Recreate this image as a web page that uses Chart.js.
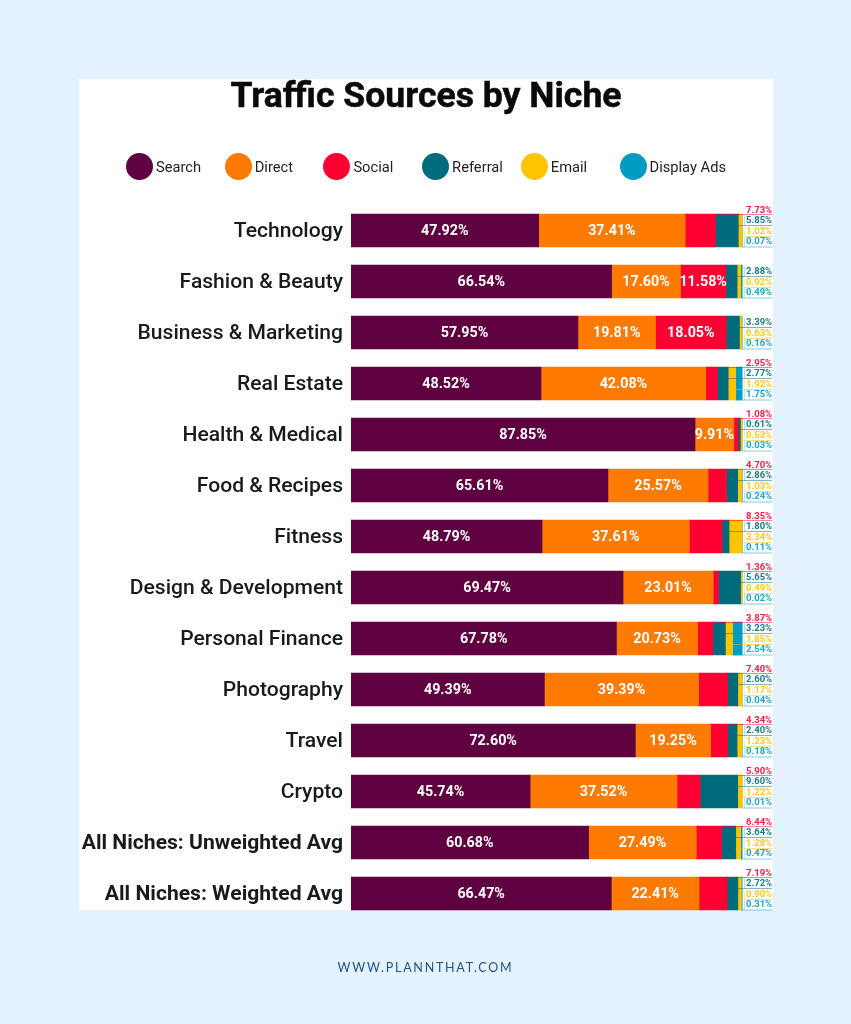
<!DOCTYPE html>
<html>
<head>
<meta charset="utf-8">
<title>Traffic Sources by Niche</title>
<script src="https://cdn.jsdelivr.net/npm/chart.js@4/dist/chart.umd.min.js"></script>
<style>
  html, body { margin: 0; padding: 0; }
  body { width: 851px; height: 1024px; background: #e4f1fe; position: relative; overflow: hidden; font-family: Roboto, sans-serif; }
  #panel { position: absolute; left: 79px; top: 79px; width: 694px; height: 831px; background: #fff; }
  #chart { position: absolute; left: 0; top: 0; }
  #title { position: absolute; left: 79px; width: 694px; top: 73px; text-align: center; font-size: 35.6px; line-height: 44px; font-weight: 700; color: #0a0a0a; -webkit-text-stroke: 0.5px #0a0a0a; }
  .dot { position: absolute; top: 153px; width: 27px; height: 27px; border-radius: 50%; }
  .leg { position: absolute; top: 157px; font-size: 14.7px; line-height: 20px; color: #222; white-space: nowrap; }
  #footer { position: absolute; left: 0; width: 851px; top: 960px; text-align: center; font-family: Lato, sans-serif; font-size: 12.5px; line-height: 16px; letter-spacing: 1.75px; color: #1d5580; }
</style>
</head>
<body>
<div id="panel"></div>
<canvas id="chart" width="851" height="1024"></canvas>
<div id="title">Traffic Sources by Niche</div>
<div id="legend"></div>
<div id="footer">WWW.PLANNTHAT.COM</div>
<script>
const niches = ['Technology', 'Fashion & Beauty', 'Business & Marketing', 'Real Estate', 'Health & Medical', 'Food & Recipes', 'Fitness', 'Design & Development', 'Personal Finance', 'Photography', 'Travel', 'Crypto', 'All Niches: Unweighted Avg', 'All Niches: Weighted Avg'];
const search = [47.92, 66.54, 57.95, 48.52, 87.85, 65.61, 48.79, 69.47, 67.78, 49.39, 72.60, 45.74, 60.68, 66.47];
const direct = [37.41, 17.60, 19.81, 42.08, 9.91, 25.57, 37.61, 23.01, 20.73, 39.39, 19.25, 37.52, 27.49, 22.41];
const social = [7.73, 11.58, 18.05, 2.95, 1.08, 4.70, 8.35, 1.36, 3.87, 7.40, 4.34, 5.90, 6.44, 7.19];
const referral = [5.85, 2.88, 3.39, 2.77, 0.61, 2.86, 1.80, 5.65, 3.23, 2.60, 2.40, 9.60, 3.64, 2.72];
const email = [1.02, 0.92, 0.63, 1.92, 0.53, 1.03, 3.34, 0.49, 1.85, 1.17, 1.23, 1.22, 1.28, 0.90];
const displayAds = [0.07, 0.49, 0.16, 1.75, 0.03, 0.24, 0.11, 0.02, 2.54, 0.04, 0.18, 0.01, 0.47, 0.31];

const seriesNames = ['Search', 'Direct', 'Social', 'Referral', 'Email', 'Display Ads'];
const seriesValues = [search, direct, social, referral, email, displayAds];
const seriesColors = ['#5f0040', '#ff7a00', '#ff0033', '#006b7d', '#ffc400', '#009cc3'];

// legend is a plain row, items are evenly spaced in the original
const legendEl = document.getElementById('legend');
seriesNames.forEach((name, i) => {
  const x = 126 + i * 98.7;
  legendEl.insertAdjacentHTML('beforeend',
    `<span class="dot" style="left:${x}px;background:${seriesColors[i]}"></span>` +
    `<span class="leg" style="left:${x + 30}px">${name}</span>`);
});

// label slots to the right of the bars, offsets from the bar centre
const slotText = { 2: -20, 3: -9.5, 4: 1, 5: 11.5 };
const slotLine = { 2: -16, 3: -5, 4: 6, 5: 16.5 };
const slotX = 746;
const slotEnd = 772;

const barLabels = {
  id: 'barLabels',
  afterDatasetsDraw(chart) {
    const { ctx } = chart;
    ctx.save();
    ctx.textBaseline = 'middle';
    seriesValues.forEach((values, s) => {
      const meta = chart.getDatasetMeta(s);
      values.forEach((v, i) => {
        const bar = meta.data[i];
        if (s <= 2 && v >= 9) {
          ctx.fillStyle = '#fff';
          ctx.font = '700 14.3px Roboto';
          ctx.textAlign = 'center';
          ctx.fillText(v.toFixed(2) + '%', (bar.base + bar.x) / 2, bar.y + 0.5);
          return;
        }
        const lineY = bar.y + slotLine[s];
        ctx.strokeStyle = seriesColors[s];
        ctx.lineWidth = 1;
        ctx.globalAlpha = 0.5;
        ctx.beginPath();
        ctx.moveTo(bar.base, lineY);
        ctx.lineTo(slotEnd, lineY);
        ctx.stroke();
        if (s > 2) {
          ctx.globalAlpha = 0.25;
          ctx.beginPath();
          ctx.moveTo(slotX - 1.5, lineY);
          ctx.lineTo(slotX - 1.5, lineY - 10);
          ctx.stroke();
        }
        ctx.globalAlpha = 0.9;
        ctx.fillStyle = seriesColors[s];
        ctx.font = '700 9.5px Roboto';
        ctx.textAlign = 'left';
        ctx.fillText(v.toFixed(2) + '%', slotX, bar.y + slotText[s]);
        ctx.globalAlpha = 1;
      });
    });
    ctx.restore();
  }
};

new Chart(document.getElementById('chart'), {
  type: 'bar',
  data: {
    labels: niches,
    datasets: seriesNames.map((name, i) => ({
      label: name,
      data: seriesValues[i],
      backgroundColor: seriesColors[i],
      barThickness: 33,
      borderWidth: 0
    }))
  },
  options: {
    indexAxis: 'y',
    responsive: false,
    animation: false,
    layout: { padding: { left: 0, right: 108.4, top: 205, bottom: 105 } },
    plugins: { legend: { display: false }, title: { display: false }, tooltip: { enabled: false } },
    scales: {
      x: { stacked: true, display: false, min: 0, max: 100 },
      y: {
        stacked: true,
        afterFit(scale) { scale.width = 351; },
        grid: { display: false, drawTicks: false },
        border: { display: false },
        ticks: {
          padding: 8,
          labelOffset: 1,
          autoSkip: false,
          color: '#1a1a1a',
          font: (c) => ({ family: 'Roboto', size: 21.1, weight: c.index >= 12 ? '700' : '500' })
        }
      }
    }
  },
  plugins: [barLabels]
});
</script>
</body>
</html>
